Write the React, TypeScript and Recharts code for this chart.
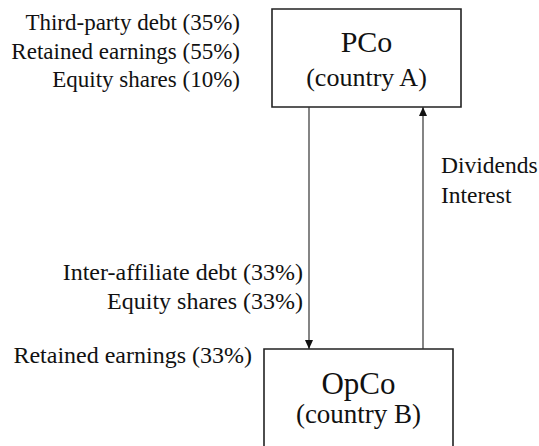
import React from "react"
import { ComposedChart, XAxis, YAxis, ReferenceArea, ReferenceLine, ReferenceDot } from "recharts"

// diagram content
const entities = ["PCo", "OpCo"]
const countries = ["country A", "country B"]
const pcoSources = ["Third-party debt", "Retained earnings", "Equity shares"]
const pcoShares = [35, 55, 10]
const opcoInflows = ["Inter-affiliate debt", "Equity shares"]
const opcoInflowShares = [33, 33]
const opcoOwn = ["Retained earnings"]
const opcoOwnShares = [33]
const returnFlows = ["Dividends", "Interest"]

// layout (diagram units = pixels)
const W = 539
const H = 446
const FONT = "Liberation Serif"
const INK = "#111"
const boxes = [
  { x1: 272, x2: 461, y1: 9, y2: 107, nameY: 52, countryY: 86, nameSize: 30, countrySize: 26 },
  { x1: 264, x2: 453, y1: 349, y2: 470, nameY: 393.5, countryY: 423, nameSize: 31, countrySize: 27 },
]
const downX = 309
const upX = 423

type TextItem = { text: string; x: number; y: number; anchor: "start" | "middle" | "end"; size: number }

const stack = (lines: string[], shares: number[] | null, x: number, y0: number, step: number, size: number): TextItem[] =>
  lines.map((l, i) => ({
    text: shares ? `${l} (${shares[i]}%)` : l,
    x,
    y: y0 + i * step,
    anchor: shares ? "end" : "start",
    size,
  }))

const texts: TextItem[] = [
  ...stack(pcoSources, pcoShares, 240, 30, 28.5, 23),
  ...stack(opcoInflows, opcoInflowShares, 303, 280, 29, 24),
  ...stack(opcoOwn, opcoOwnShares, 252, 363, 29, 24),
  ...stack(returnFlows, null, 441, 173, 30, 23.5),
  ...entities.flatMap((e, i) => {
    const b = boxes[i]
    const cx = (b.x1 + b.x2) / 2
    return [
      { text: e, x: cx, y: b.nameY, anchor: "middle" as const, size: b.nameSize },
      { text: `(${countries[i]})`, x: cx, y: b.countryY, anchor: "middle" as const, size: b.countrySize },
    ]
  }),
]

const arrowShape = (dir: "down" | "up") => (p: any) => {
  const { x1, y1, x2, y2 } = p
  const tipY = dir === "down" ? Math.max(y1, y2) : Math.min(y1, y2)
  const back = dir === "down" ? tipY - 9 : tipY + 9
  return (
    <g>
      <line x1={x1} y1={y1} x2={x2} y2={y2} stroke="#333" strokeWidth={1.2} />
      <polygon points={`${x1 - 4},${back} ${x1 + 4},${back} ${x1},${tipY}`} fill="#111" />
    </g>
  )
}

export default function App() {
  return (
    <div style={{ position: "absolute", left: 0, top: 0, background: "#fff" }}>
      <ComposedChart width={W} height={H} data={[]} margin={{ top: 0, right: 0, bottom: 0, left: 0 }}>
        <XAxis type="number" dataKey="x" domain={[0, W]} allowDataOverflow hide />
        <YAxis type="number" domain={[0, H]} allowDataOverflow reversed hide />
        {boxes.map((b, i) => (
          <ReferenceArea
            key={`box-${i}`}
            x1={b.x1}
            x2={b.x2}
            y1={b.y1}
            y2={b.y2}
            ifOverflow="visible"
            fill="#fff"
            fillOpacity={1}
            stroke="#222"
            strokeWidth={1.6}
          />
        ))}
        <ReferenceLine
          segment={[{ x: downX, y: boxes[0].y2 }, { x: downX, y: boxes[1].y1 }]}
          ifOverflow="visible"
          shape={arrowShape("down")}
        />
        <ReferenceLine
          segment={[{ x: upX, y: boxes[1].y1 }, { x: upX, y: boxes[0].y2 }]}
          ifOverflow="visible"
          shape={arrowShape("up")}
        />
        {texts.map((t, i) => (
          <ReferenceDot
            key={`t-${i}`}
            x={t.x}
            y={t.y}
            r={0}
            ifOverflow="visible"
            shape={(p: any) => (
              <text
                x={p.cx}
                y={p.cy}
                textAnchor={t.anchor}
                style={{ fontFamily: FONT, fontSize: t.size }}
                fill={INK}
              >
                {t.text}
              </text>
            )}
          />
        ))}
      </ComposedChart>
    </div>
  )
}
